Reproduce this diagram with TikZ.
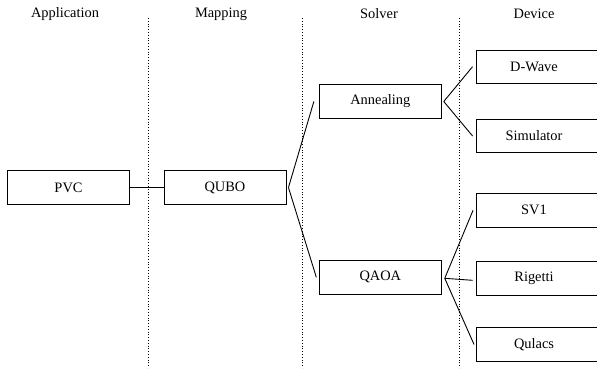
\documentclass[tikz,border=0pt]{standalone}
\usepackage{fontspec}
\setmainfont{Liberation Serif}
\begin{document}
\begin{tikzpicture}[x=1pt,y=-1pt,
  every node/.style={font=\fontsize{14.4}{17}\selectfont},
  box/.style={draw,line width=0.9pt,minimum width=122pt,minimum height=33.5pt,inner sep=0pt},
  devbox/.style={box,execute at begin node={\hspace*{-6pt}}},
  head/.style={inner sep=0pt},
  sep/.style={dotted,line width=0.8pt},
  link/.style={line width=0.9pt}]
\useasboundingbox (0,0) rectangle (597,368);
% column headings
\node[head] (happ) at (65,14) {Application};
\node[head] (hmap) at (221,14) {Mapping};
\node[head] (hsol) at (379,14) {Solver};
\node[head] (hdev) at (534,14) {Device};
% separators
\coordinate (s1t) at (148,18); \coordinate (s1b) at (148,368);
\coordinate (s2t) at (302,18); \coordinate (s2b) at (302,368);
\coordinate (s3t) at (459,18); \coordinate (s3b) at (459,368);
\draw[sep] (s1t) -- (s1b);
\draw[sep] (s2t) -- (s2b);
\draw[sep] (s3t) -- (s3b);
% boxes
\node[box] (pvc) at (68.5,187.5) {PVC};
\node[box] (qubo) at (225,187.5) {QUBO};
\node[box] (ann) at (380.3,101.5) {Annealing};
\node[box] (qaoa) at (380.3,277.3) {QAOA};
\node[devbox] (dwave) at (537,66.7) {D-Wave};
\node[devbox] (sim) at (537,136) {Simulator};
\node[devbox] (sv1) at (537,210.3) {SV1};
\node[devbox] (rig) at (537,278.3) {Rigetti};
\node[devbox] (qul) at (537,344.5) {Qulacs};
% connectors
\draw[link] (pvc.east) -- (qubo.west);
\draw[link] ([xshift=2pt]qubo.east) -- ([xshift=-5pt]ann.west);
\draw[link] ([xshift=2pt]qubo.east) -- ([xshift=-2.5pt]qaoa.west);
\draw[link] ([xshift=2pt]ann.east) -- ([xshift=-3pt]dwave.west);
\draw[link] ([xshift=2pt]ann.east) -- ([xshift=-3pt]sim.west);
\draw[link] ([xshift=3pt,yshift=-1pt]qaoa.east) -- ([xshift=-2.5pt]sv1.west);
\draw[link] ([xshift=3pt,yshift=-1pt]qaoa.east) -- ([xshift=-3pt,yshift=-2pt]rig.west);
\draw[link] ([xshift=3pt,yshift=-1pt]qaoa.east) -- ([xshift=-1.5pt]qul.west);
\end{tikzpicture}
\end{document}
